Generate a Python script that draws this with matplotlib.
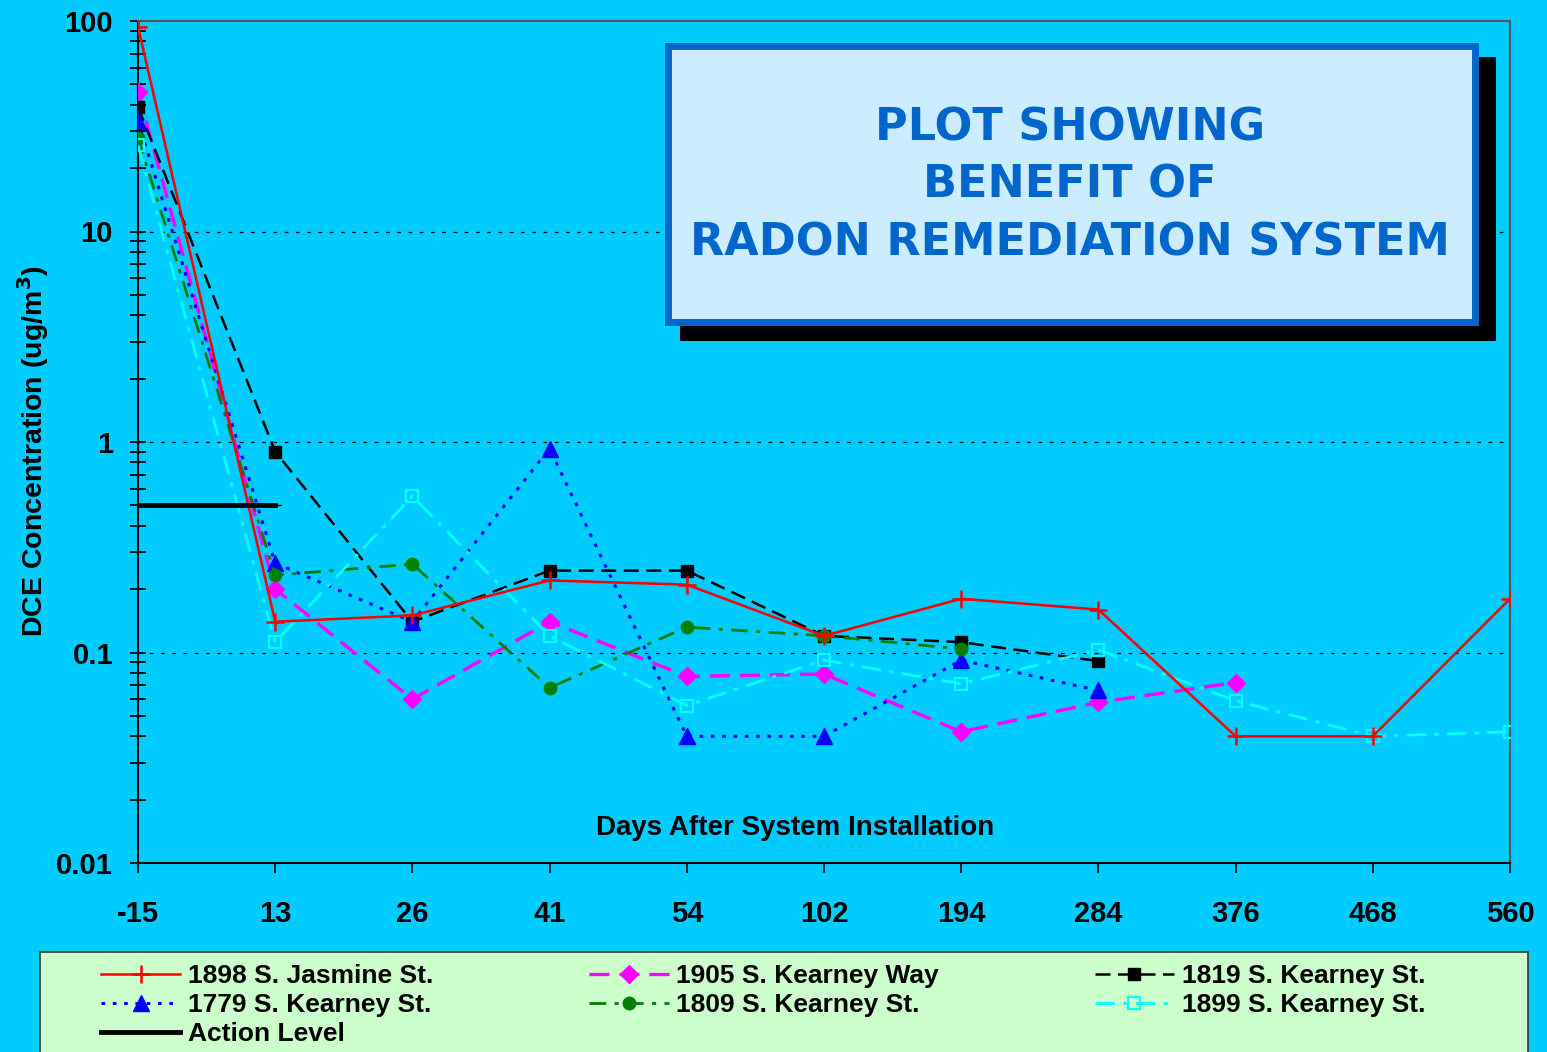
import numpy as np
import matplotlib
matplotlib.use("Agg")
import matplotlib.pyplot as plt
from matplotlib.patches import Rectangle
from matplotlib.ticker import LogLocator, NullFormatter, FixedLocator

days = ["-15", "13", "26", "41", "54", "102", "194", "284", "376", "468", "560"]

jasmine_1898 = [94, 0.14, 0.15, 0.22, 0.21, 0.12, 0.18, 0.16, 0.04, 0.04, 0.18]
kearney_way_1905 = [46, 0.20, 0.06, 0.14, 0.077, 0.079, 0.042, 0.058, 0.072]
kearney_1819 = [39, 0.90, 0.14, 0.245, 0.245, 0.12, 0.112, 0.091]
kearney_1779 = [33.5, 0.266, 0.14, 0.93, 0.04, 0.04, 0.092, 0.066]
kearney_1809 = [27.8, 0.233, 0.263, 0.068, 0.132, 0.12, 0.104]
kearney_1899 = [25.7, 0.112, 0.553, 0.12, 0.056, 0.092, 0.071, 0.103, 0.059, 0.04, 0.042]
action_level = [0.5, 0.5]

BG = "#00CCFF"
plt.rcParams['font.family'] = ['Liberation Sans', 'DejaVu Sans']

fig = plt.figure(figsize=(15.47, 10.52), dpi=100, facecolor=BG)
ax = fig.add_axes([138/1547, 1 - 863/1052, 1372/1547, 842/1052])
ax.set_facecolor(BG)

pos = np.arange(len(days))

ax.plot(pos[:len(jasmine_1898)], jasmine_1898, color="red", lw=1.8, ls="-",
        marker="+", ms=13, mew=1.8, label="1898 S. Jasmine St.", zorder=5)
ax.plot(pos[:len(kearney_way_1905)], kearney_way_1905, color="#FF00FF", lw=2.4,
        ls=(0, (6, 3)), marker="D", ms=9, label="1905 S. Kearney Way", zorder=4)
ax.plot(pos[:len(kearney_1819)], kearney_1819, color="black", lw=1.8,
        ls=(0, (6, 3)), marker="s", ms=9, label="1819 S. Kearney St.", zorder=4)
ax.plot(pos[:len(kearney_1779)], kearney_1779, color="#0000FF", lw=2.2,
        ls=(0, (1.2, 2.5)), marker="^", ms=11, label="1779 S. Kearney St.", zorder=4)
ax.plot(pos[:len(kearney_1809)], kearney_1809, color="#008000", lw=2.0,
        ls=(0, (6, 3, 1.5, 3)), marker="o", ms=9, label="1809 S. Kearney St.", zorder=4)
ax.plot(pos[:len(kearney_1899)], kearney_1899, color="#00FFFF", lw=2.0,
        ls=(0, (7, 3, 1.5, 3)), marker="s", ms=9, mfc="none", mew=1.5,
        label="1899 S. Kearney St.", zorder=4)
ax.plot(pos[:len(action_level)], action_level, color="black", lw=3.5,
        marker="_", ms=8, label="Action Level", zorder=6)

ax.set_yscale("log")
ax.set_ylim(0.01, 100)
ax.set_xlim(0, len(days) - 1)

ax.yaxis.set_major_locator(FixedLocator([0.01, 0.1, 1, 10, 100]))
ax.yaxis.set_minor_locator(LogLocator(base=10, subs=np.arange(2, 10)))
ax.yaxis.set_minor_formatter(NullFormatter())
ax.set_yticklabels(["0.01", "0.1", "1", "10", "100"])
ax.tick_params(axis="y", which="both", direction="inout", length=12, width=1.3,
               labelsize=21, pad=12)
for t in ax.get_yticklabels():
    t.set_fontweight("bold")

ax.set_xticks(pos)
ax.set_xticklabels(days, fontsize=21, fontweight="bold")
ax.tick_params(axis="x", direction="out", length=7, width=1.2, pad=20)

for yv in [0.1, 1, 10]:
    ax.axhline(yv, color="black", lw=0.9, ls=(0, (3, 6)), zorder=1)

ax.spines["left"].set_color("black")
ax.spines["left"].set_linewidth(1.5)
ax.spines["bottom"].set_color("black")
ax.spines["bottom"].set_linewidth(1.5)
ax.spines["top"].set_color("#555555")
ax.spines["top"].set_linewidth(1.5)
ax.spines["right"].set_color("#555555")
ax.spines["right"].set_linewidth(1.5)

ax.text(0.479, 0.042, "Days After System Installation", transform=ax.transAxes,
        ha="center", va="center", fontsize=20, fontweight="bold")
fig.text(33/1547, 1 - 451/1052, "DCE Concentration (ug/m$^{\\mathbf{3}}$)",
         rotation=90, ha="center", va="center", fontsize=20.5, fontweight="bold")

# title box with shadow
fig.patches.append(Rectangle((680/1547, 1 - 341/1052), 816/1547, 284/1052,
                             transform=fig.transFigure, facecolor="black",
                             edgecolor="none", zorder=8))
fig.patches.append(Rectangle((668/1547, 1 - 322/1052), 807/1547, 276/1052,
                             transform=fig.transFigure, facecolor="#CCECFF",
                             edgecolor="#0066CC", lw=5, zorder=9))
for txt, yy in [("PLOT SHOWING", 128), ("BENEFIT OF", 185),
                ("RADON REMEDIATION SYSTEM", 243)]:
    fig.text(1070/1547, 1 - yy/1052, txt, ha="center", va="center",
             fontsize=32, fontweight="bold", color="#0066CC",
             family="DejaVu Sans", zorder=10)

# legend box
fig.patches.append(Rectangle((40/1547, -0.01), 1488/1547, 0.01 + 100/1052,
                             transform=fig.transFigure, facecolor="#CCFFCC",
                             edgecolor="#333333", lw=1.2, zorder=1))
handles, labels = ax.get_legend_handles_labels()
order = [0, 3, 6, 1, 4, 2, 5]  # row-wise filling like the original
leg = fig.legend([handles[i] for i in order], [labels[i] for i in order],
                 ncol=3, loc="upper left",
                 bbox_to_anchor=(88/1547, 1 - 951/1052), frameon=False,
                 prop={"weight": "bold", "size": 19}, handlelength=3.0,
                 handletextpad=0.3, columnspacing=5.9, labelspacing=0.19,
                 borderpad=0.0)
leg.set_zorder(5)

fig.savefig("out.png", dpi=100, facecolor=BG)
